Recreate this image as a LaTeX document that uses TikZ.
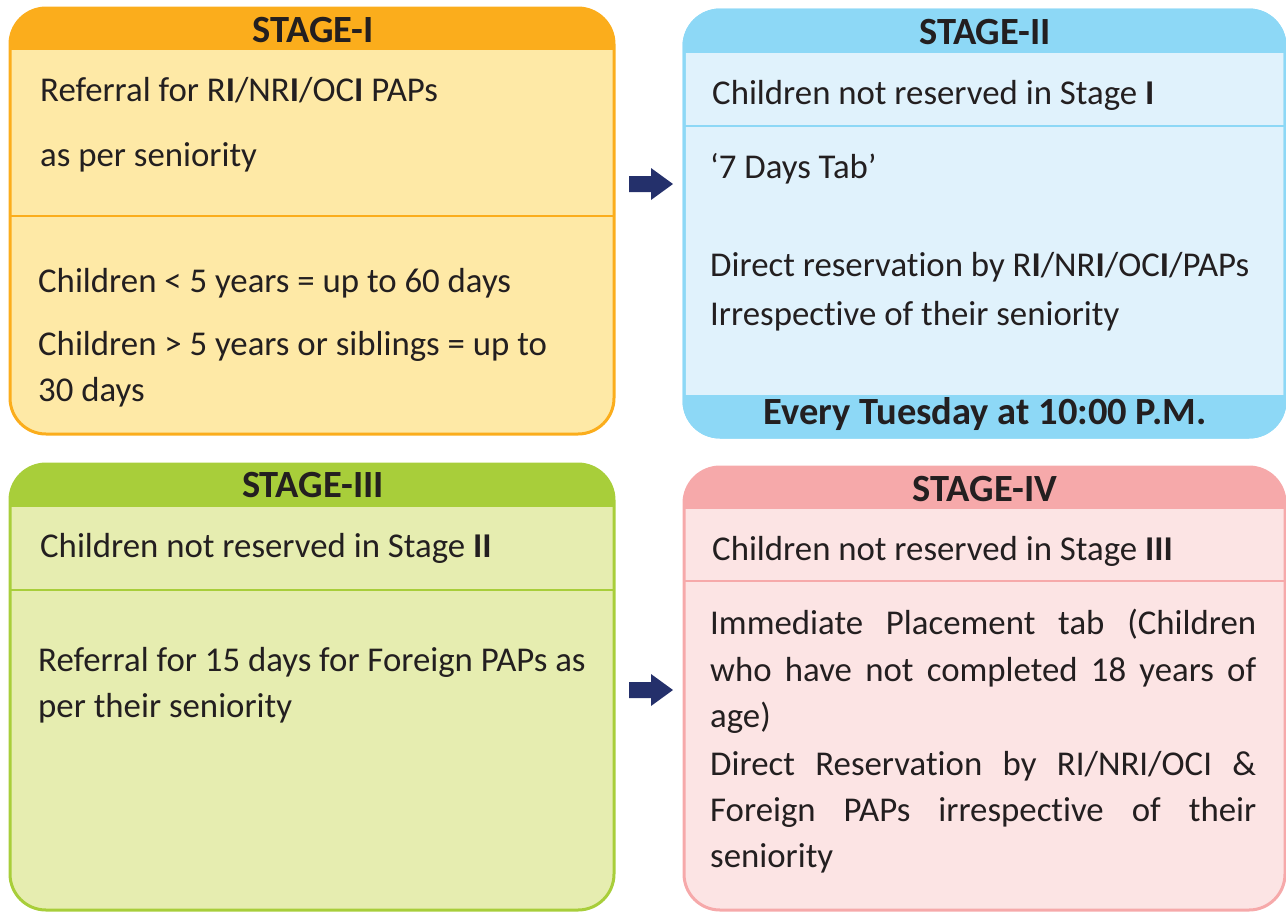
\documentclass[tikz,border=0pt]{standalone}
\usepackage{fontspec}
\setmainfont[Ligatures={NoCommon}]{Carlito}
\definecolor{txt}{HTML}{231F20}
\definecolor{navy}{HTML}{24306B}
\definecolor{orH}{HTML}{FBAD1C}
\definecolor{orB}{HTML}{FEE9A6}
\definecolor{blH}{HTML}{8DD8F6}
\definecolor{blB}{HTML}{E0F2FC}
\definecolor{grH}{HTML}{A8CE3A}
\definecolor{grB}{HTML}{E6EDB0}
\definecolor{pkH}{HTML}{F6A9AA}
\definecolor{pkB}{HTML}{FCE4E4}
\tikzset{
  bodytext/.style={font=\fontsize{34.8}{46}\selectfont, anchor=base west, inner sep=0pt, text=txt},
  headtext/.style={font=\fontsize{38.5}{44}\selectfont\bfseries, anchor=base, inner sep=0pt, text=txt},
  arrowblock/.style={fill=navy, draw=none},
}
% #1 x1, #2 y1, #3 x2, #4 y2, #5 header bottom, #6 divider, #7 head colour, #8 body colour
\newcommand\StageBox[8]{%
  \begin{scope}
    \clip[rounded corners=36pt] (#1,#2) rectangle (#3,#4);
    \fill[#8] (#1,#2) rectangle (#3,#4);
    \fill[#7] (#1,#2) rectangle (#3,#5);
    \draw[#7, line width=2.5pt] (#1,#6) -- (#3,#6);
  \end{scope}
  \draw[#7, line width=3pt, rounded corners=36pt] (#1,#2) rectangle (#3,#4);
}
% block arrow with tip at named coordinate #1
\newcommand\BlockArrow[1]{%
  \fill[arrowblock] (#1) -- ++(-22,-16) -- ++(0,8) -- ++(-22,0) -- ++(0,16) -- ++(22,0) -- ++(0,8) -- cycle;
}
\begin{document}
\begin{tikzpicture}[x=1pt,y=-1pt]
\useasboundingbox (0,0) rectangle (1286,911);

% boxes
\StageBox{10}{8}{614}{434}{50}{216}{orH}{orB}
\StageBox{684}{10}{1285}{437}{53}{126}{blH}{blB}
\begin{scope}
  \clip[rounded corners=36pt] (684,10) rectangle (1285,437);
  \fill[blH] (684,395) rectangle (1285,437);
\end{scope}
\draw[blH, line width=3pt, rounded corners=36pt] (684,10) rectangle (1285,437);
\StageBox{10}{464}{614}{910}{507}{590}{grH}{grB}
\StageBox{684}{467}{1285}{910}{509}{581}{pkH}{pkB}

% Stage I
\node[headtext] (h1) at (313,42) {STAGE-I};
\node[bodytext] (s1a) at (40,101) {Referral for R\textbf{I}/NR\textbf{I}/OC\textbf{I} PAPs};
\node[bodytext] (s1b) at (40,166) {as per seniority};
\node[bodytext] (s1c) at (38,292) {Children < 5 years = up to 60 days};
\node[bodytext] (s1d) at (38,355) {Children > 5 years or siblings = up to};
\node[bodytext] (s1e) at (38,401) {30 days};

% Stage II
\node[headtext] (h2) at (985,44) {STAGE-II};
\node[bodytext] (s2a) at (712,104) {Children not reserved in Stage \textbf{I}};
\node[bodytext] (s2b) at (710,178) {‘7 Days Tab’};
\node[bodytext] (s2c) at (710,276) {Direct reservation by R\textbf{I}/NR\textbf{I}/OC\textbf{I}/PAPs};
\node[bodytext] (s2d) at (710,325) {Irrespective of their seniority};
\node[headtext] (f2) at (985,424) {Every Tuesday at 10:00 P.M.};

% Stage III
\node[headtext] (h3) at (313,497) {STAGE-III};
\node[bodytext] (s3a) at (40,557) {Children not reserved in Stage \textbf{II}};
\node[bodytext] (s3b) at (38,671) {Referral for 15 days for Foreign PAPs as};
\node[bodytext] (s3c) at (38,717) {per their seniority};

% Stage IV
\node[headtext] (h4) at (985,501) {STAGE-IV};
\node[bodytext] (s4a) at (712,560) {Children not reserved in Stage \textbf{III}};
\node[bodytext] (s4b) at (710,634) {\makebox[546pt][s]{Immediate Placement tab (Children}};
\node[bodytext] (s4c) at (710,681) {\makebox[546pt][s]{who have not completed 18 years of}};
\node[bodytext] (s4d) at (710,727) {age)};
\node[bodytext] (s4e) at (710,775) {\makebox[546pt][s]{Direct Reservation by RI/NRI/OCI \&}};
\node[bodytext] (s4f) at (710,821) {\makebox[546pt][s]{Foreign PAPs irrespective of their}};
\node[bodytext] (s4g) at (710,867) {seniority};

% arrows
\coordinate (a1) at (673,184);
\coordinate (a2) at (673,690);
\BlockArrow{a1}
\BlockArrow{a2}
\end{tikzpicture}
\end{document}
